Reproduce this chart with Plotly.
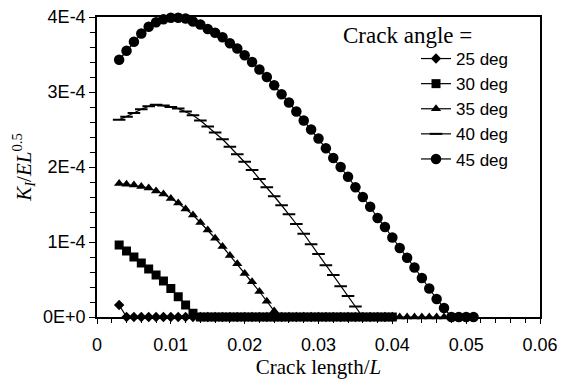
import numpy as np
import plotly.graph_objects as go

# Crack length / L
x_start = 0.003
step = 0.001

# K_I / (E L^0.5) values, in units of 1E-4
k25 = [0.16] + [0.0] * 37                      # 0.003 .. 0.040
k30 = [0.96, 0.88, 0.80, 0.72, 0.64, 0.56, 0.48, 0.38, 0.27, 0.16, 0.05] + [0.0] * 27  # 0.003 .. 0.040
k35 = [1.78, 1.77, 1.76, 1.74, 1.72, 1.68, 1.64, 1.58, 1.52, 1.44, 1.36, 1.26,
       1.16, 1.05, 0.94, 0.82, 0.71, 0.58, 0.47, 0.34, 0.21, 0.08] + [0.0] * 23  # 0.003 .. 0.047
k40 = [2.63, 2.67, 2.72, 2.77, 2.81, 2.83, 2.82, 2.80, 2.78, 2.74, 2.69, 2.62,
       2.54, 2.46, 2.37, 2.27, 2.17, 2.07, 1.96, 1.84, 1.73, 1.61, 1.49, 1.37,
       1.24, 1.11, 0.97, 0.84, 0.69, 0.56, 0.41, 0.28, 0.14] + [0.0] * 5  # 0.003 .. 0.040
k45 = [3.43, 3.55, 3.67, 3.78, 3.87, 3.93, 3.97, 3.99, 3.99, 3.98, 3.94, 3.90,
       3.84, 3.79, 3.73, 3.65, 3.58, 3.49, 3.40, 3.30, 3.20, 3.09, 2.97, 2.86,
       2.74, 2.62, 2.50, 2.38, 2.25, 2.12, 2.00, 1.87, 1.73, 1.60, 1.47, 1.32,
       1.20, 1.06, 0.92, 0.79, 0.66, 0.52, 0.38, 0.24, 0.12, 0.0, 0.0, 0.0, 0.0]  # 0.003 .. 0.051

series_names = ["25 deg", "30 deg", "35 deg", "40 deg", "45 deg"]
series_vals = [k25, k30, k35, k40, k45]
symbols = ["diamond", "square", "triangle-up", "line-ew", "circle"]
sizes = [8, 9, 9, 9, 10.5]

y_tickvals = [0, 1e-4, 2e-4, 3e-4, 4e-4]
y_ticktext = ["0E+0", "1E-4", "2E-4", "3E-4", "4E-4"]
x_tickvals = [0, 0.01, 0.02, 0.03, 0.04, 0.05, 0.06]
x_ticktext = ["0", "0.01", "0.02", "0.03", "0.04", "0.05", "0.06"]

fig = go.Figure()
for name, vals, sym, sz in zip(series_names, series_vals, symbols, sizes):
    v = np.array(vals) * 1e-4
    xs = x_start + step * np.arange(len(v))
    marker = dict(symbol=sym, size=sz, color="black",
                  line=dict(color="black", width=2 if sym == "line-ew" else 0))
    fig.add_trace(go.Scatter(x=xs, y=v, mode="lines+markers", name=name,
                             line=dict(color="black", width=1.2),
                             marker=marker, cliponaxis=False))

serif = "Liberation Serif"
sans = "Liberation Sans"

pw, ph = 561 - 97 - 21, 381 - 17 - 64

fig.update_layout(
    width=561, height=381,
    margin=dict(l=97, r=21, t=17, b=64),
    paper_bgcolor="white", plot_bgcolor="white",
    font=dict(family=sans, size=18, color="black"),
    showlegend=True,
    legend=dict(x=(416 - 97) / pw, y=1 - (41 - 17) / ph, xanchor="left", yanchor="top",
                bgcolor="rgba(0,0,0,0)", font=dict(family=sans, size=17),
                itemwidth=30, tracegroupgap=0),
    xaxis=dict(range=[0, 0.06], tickvals=x_tickvals, ticktext=x_ticktext,
               showline=True, linecolor="black", linewidth=1.5, mirror=True,
               ticks="outside", ticklen=5, tickwidth=1.2, tickcolor="black",
               ticklabelstandoff=6, automargin=False,
               minor=dict(dtick=0.002, ticks="outside", ticklen=4, tickwidth=1.2, tickcolor="black"),
               showgrid=False, zeroline=False,
               title=dict(text="Crack length/<i>L</i>", font=dict(family=serif, size=21), standoff=4)),
    yaxis=dict(range=[0, 4e-4], tickvals=y_tickvals, ticktext=y_ticktext,
               showline=True, linecolor="black", linewidth=1.5, mirror=True,
               ticks="outside", ticklen=6, tickwidth=1.2, tickcolor="black",
               automargin=False,
               minor=dict(dtick=2e-5, ticks="outside", ticklen=5, tickwidth=1.2, tickcolor="black"),
               showgrid=False, zeroline=False,
               title=dict(text="<i>K</i><sub><i>I</i></sub>/<i>EL</i><sup>0.5</sup>",
                          font=dict(family=serif, size=21), standoff=6)),
    annotations=[dict(text="Crack angle =", xref="paper", yref="paper",
                      x=(341 - 97) / pw, y=1 - (35 - 17) / ph,
                      xanchor="left", yanchor="middle", showarrow=False,
                      font=dict(family=serif, size=23))]
)

fig.write_html("out.html")
